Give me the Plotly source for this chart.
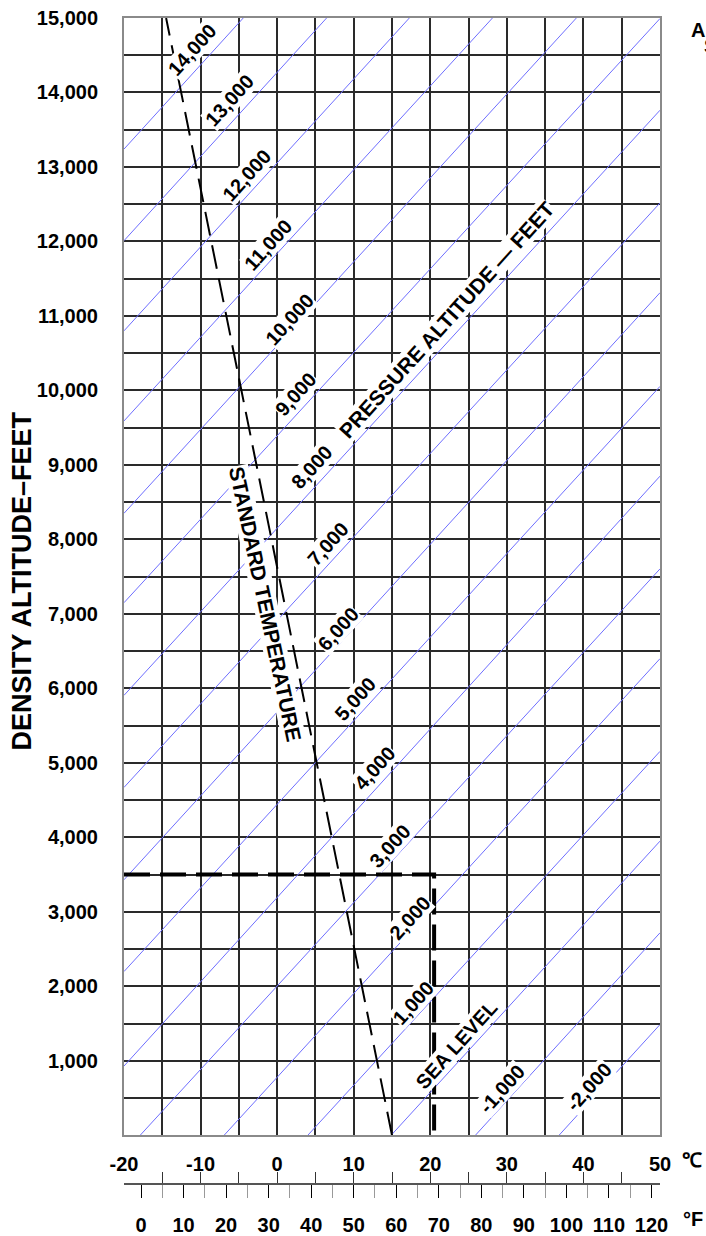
import plotly.graph_objects as go

# ---------------- data ----------------
pressure_altitude_ft = [-2000, -1000, 0, 1000, 2000, 3000, 4000, 5000, 6000,
                        7000, 8000, 9000, 10000, 11000, 12000, 13000, 14000]
# density altitude where each pressure-altitude line meets -20 C and 50 C
density_alt_at_m20c = [-6405, -5175, -3925, -2690, -1470, -237, 929, 2198, 3430,
                       4670, 5906, 7150, 8350, 9590, 10800, 12010, 13240]
density_alt_at_50c = [1486, 2718, 3949, 5154, 6399, 7604, 8849, 10054, 11312,
                      12517, 13762, 14993, 16230, 17460, 18690, 19920, 21150]
pa_label_text = ["-2,000", "-1,000", "SEA LEVEL", "1,000", "2,000", "3,000",
                 "4,000", "5,000", "6,000", "7,000", "8,000", "9,000", "10,000",
                 "11,000", "12,000", "13,000", "14,000"]

# standard temperature line (temperature C, density altitude ft)
std_temp_c = [15.0, -14.5]
std_density_alt = [0, 15000]

# worked example (heavy dashed)
example_temp_c = [-20, 20.5, 20.5]
example_density_alt = [3500, 3500, 0]

celsius_ticks = list(range(-20, 51, 5))
celsius_labels = ["-20", "", "-10", "", "0", "", "10", "", "20", "", "30", "", "40", "", "50"]
da_ticks = list(range(0, 15001, 500))
da_labels = ["" if (v % 1000 or v == 0) else f"{v:,}" for v in da_ticks]

# ---------------- label placement ----------------
pa_label_x = [40.73, 29.37, 23.36, 17.74, 17.35, 14.74, 12.78, 10.17, 7.95,
              6.64, 4.55, 2.46, 1.55, -1.19, -3.94, -6.16, -11.1]
pa_label_y = [643, 616, 1218, 1780, 2918, 3882, 4926, 5863, 6801,
              7938, 8969, 9946, 10950, 11954, 12892, 13896, 14565]

FONT = "Liberation Sans, Arial, sans-serif"
fig = go.Figure()

for i, pa in enumerate(pressure_altitude_ft):
    fig.add_trace(go.Scatter(
        x=[-20, 50], y=[density_alt_at_m20c[i], density_alt_at_50c[i]],
        mode="lines", line=dict(color="rgb(110,110,255)", width=1),
        hoverinfo="skip", showlegend=False))

fig.add_trace(go.Scatter(
    x=std_temp_c, y=std_density_alt, mode="lines",
    line=dict(color="black", width=2, dash="24px,10px"),
    hoverinfo="skip", showlegend=False))

fig.add_trace(go.Scatter(
    x=example_temp_c, y=example_density_alt, mode="lines",
    line=dict(color="black", width=4, dash="26px,10px"),
    hoverinfo="skip", showlegend=False))

# dummy traces so the extra scale axes get drawn
fig.add_trace(go.Scatter(x=[0], y=[-5000], xaxis="x2", mode="markers",
                         marker=dict(opacity=0), hoverinfo="skip", showlegend=False))
fig.add_trace(go.Scatter(x=[0], y=[-5000], xaxis="x3", mode="markers",
                         marker=dict(opacity=0), hoverinfo="skip", showlegend=False))

tickfont = dict(family=FONT, size=20, color="black", weight="bold")
grid_col = "#2a2a2a"
ybottom = 98 / 1218
ruler = 49 / 1218


def px_x(p):
    return (p - 124) / 536


def px_y(p):
    return (1236 - p) / 1218


fig.update_layout(
    width=706, height=1236,
    margin=dict(l=124, r=46, t=18, b=0),
    paper_bgcolor="white", plot_bgcolor="white",
    xaxis=dict(domain=[0, 1], range=[-20, 50], tickmode="array",
               tickvals=celsius_ticks, ticktext=celsius_labels, ticks="",
               showgrid=True, gridcolor=grid_col, gridwidth=1.5, zeroline=False,
               showline=True, mirror=True, linecolor="#8a8a8a", linewidth=2,
               tickfont=tickfont, ticklabelstandoff=10, anchor="y",
               ticklabeloverflow="allow"),
    xaxis2=dict(overlaying="x", anchor="free", position=ruler, side="bottom",
                range=[-4, 122], tick0=0, dtick=10, ticks="outside", ticklen=13,
                tickcolor="black", tickwidth=1.3, showgrid=False, zeroline=False,
                showline=False, tickfont=tickfont, ticklabelstandoff=10,
                ticklabeloverflow="allow",
                minor=dict(ticks="outside", tick0=0, dtick=5, ticklen=13,
                           tickcolor="#999999", tickwidth=1.3, showgrid=False)),
    xaxis3=dict(overlaying="x", anchor="free", position=ruler, side="bottom",
                range=[-20, 50], tickmode="array", tickvals=celsius_ticks,
                ticks="inside", ticklen=11, tickcolor="#333", tickwidth=1.3,
                showticklabels=False, showgrid=False, zeroline=False,
                showline=True, linecolor="#555", linewidth=1.5),
    yaxis=dict(domain=[ybottom, 1], range=[0, 15000], tickmode="array",
               tickvals=da_ticks, ticktext=da_labels, ticks="",
               showgrid=True, gridcolor=grid_col, gridwidth=1.5, zeroline=False,
               showline=True, mirror=True, linecolor="#8a8a8a", linewidth=2,
               tickfont=tickfont, ticklabelstandoff=20, ticklabeloverflow="allow"),
)

ann_font = dict(family=FONT, size=20, color="black", weight="bold")
for i, txt in enumerate(pa_label_text):
    fig.add_annotation(x=pa_label_x[i], y=pa_label_y[i], xref="x", yref="y",
                       text=txt, showarrow=False, textangle=-48,
                       xanchor="center", yanchor="middle",
                       font=ann_font, bgcolor="white", borderpad=0)

fig.add_annotation(x=22.18, y=10950, xref="x", yref="y",
                   text="PRESSURE ALTITUDE — FEET", showarrow=False,
                   xanchor="center", yanchor="middle", textangle=-48,
                   font=dict(family=FONT, size=21, color="black", weight="bold"),
                   bgcolor="white", borderpad=0)
fig.add_annotation(x=-1.59, y=7135, xref="x", yref="y",
                   text="STANDARD TEMPERATURE", showarrow=False,
                   xanchor="center", yanchor="middle", textangle=78,
                   font=dict(family=FONT, size=21, color="black", weight="bold"),
                   bgcolor="white", borderpad=0)

big = dict(family=FONT, size=20, color="black", weight="bold")
# axis titles / units
fig.add_annotation(x=px_x(22), y=px_y(583), xref="paper", yref="paper",
                   xanchor="center", yanchor="middle",
                   text="DENSITY ALTITUDE–FEET", showarrow=False, textangle=-90,
                   font=dict(family=FONT, size=27, color="black", weight="bold"))
fig.add_annotation(x=px_x(692), y=px_y(1163), xref="paper", yref="paper", text="℃",
                   xanchor="center", yanchor="middle", showarrow=False, font=big)
fig.add_annotation(x=px_x(693), y=px_y(1222), xref="paper", yref="paper", text="°F",
                   xanchor="center", yanchor="middle", showarrow=False, font=big)
# text cut off at the right edge of the page
fig.add_annotation(x=px_x(689), y=px_y(30), xref="paper", yref="paper", text="A",
                   showarrow=False, xanchor="left", yanchor="middle", font=big)
fig.add_annotation(x=px_x(702), y=px_y(46), xref="paper", yref="paper", text="S",
                   showarrow=False, xanchor="left", yanchor="middle", font=big)

fig.write_html("out.html",
               config={"displayModeBar": False},
               post_script="document.body.style.margin='0px';"
                           "document.body.style.overflow='hidden';")
